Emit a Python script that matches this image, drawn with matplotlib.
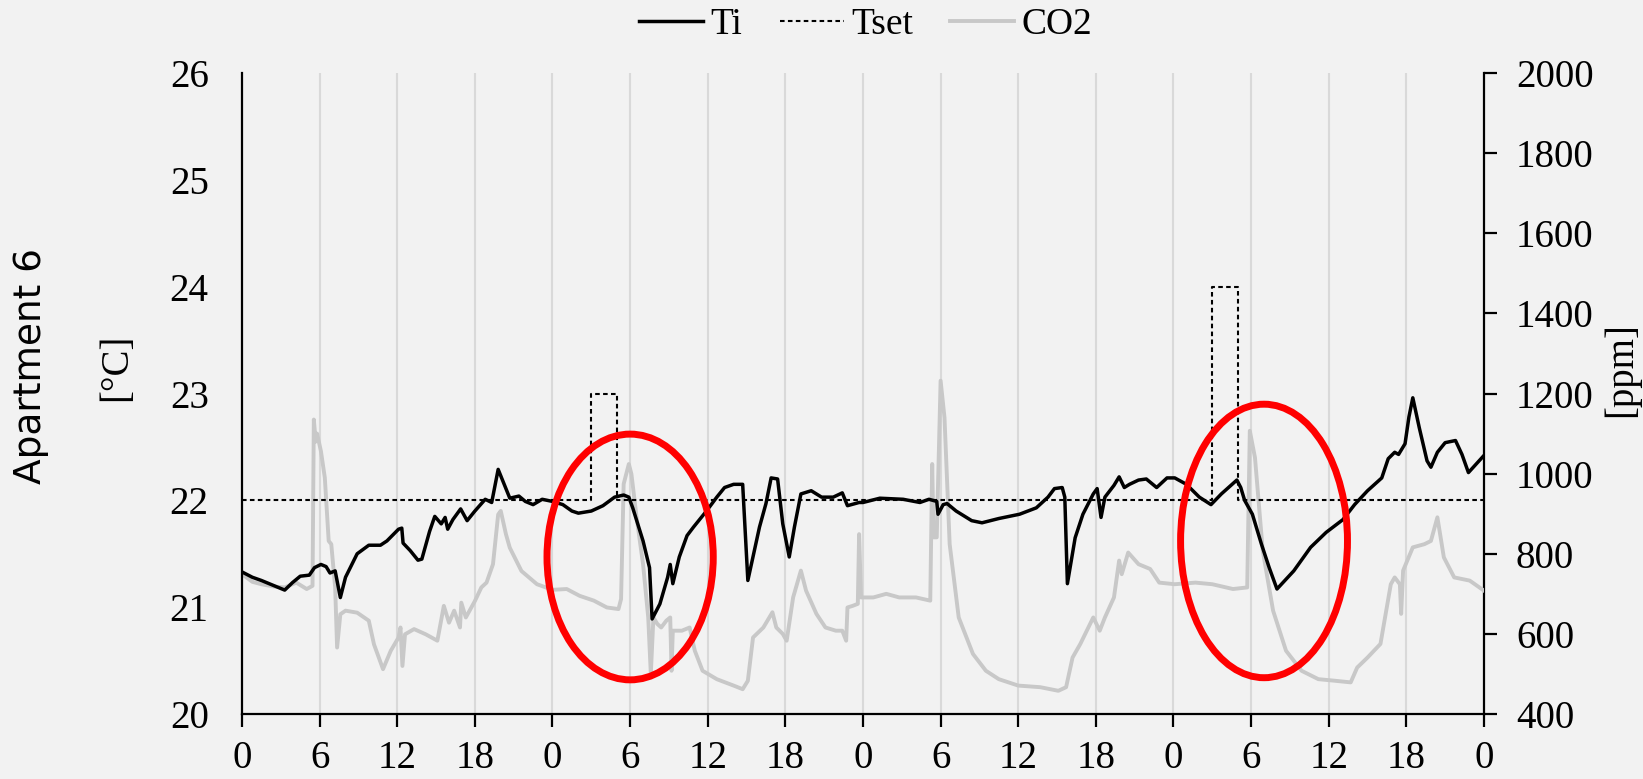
import numpy as np
import matplotlib
matplotlib.use('Agg')
import matplotlib.pyplot as plt
from matplotlib.patches import Ellipse

# 字体设置
plt.rcParams['font.family'] = ['Liberation Serif', 'DejaVu Serif']
plt.rcParams['axes.unicode_minus'] = False

# ---------------- 数据 (小时, 4天) ----------------
ti_t = [0, 0.8, 1.5, 2.5, 3.3, 3.9, 4.5, 5.2, 5.6, 6.1, 6.5, 6.8, 7.2, 7.6, 8.0, 8.9, 9.8, 10.7, 11.2,
        12.1, 12.35, 12.45, 13.0, 13.6, 13.9, 14.5, 14.9, 15.4, 15.7, 15.9, 16.3, 16.9, 17.4, 18.0, 18.8,
        19.3, 19.8, 20.1, 20.7, 21.4, 21.9, 22.5, 23.2, 24.0, 24.8, 25.5, 26.0, 27.0, 27.9, 28.8, 29.5,
        29.9, 30.2, 31.0, 31.5, 31.7, 32.3, 32.9, 33.1, 33.3, 33.8, 34.4, 34.9, 35.9, 36.7, 37.3, 38.0,
        38.7, 39.1, 40.0, 40.5, 40.9, 41.4, 41.8, 42.3, 42.7, 43.2, 44.0, 44.8, 45.7, 46.4, 46.8, 47.7,
        48.0, 49.3, 51.1, 52.4, 53.1, 53.7, 53.8, 54.2, 54.5, 55.2, 56.4, 57.2, 58.5, 60.1, 61.4, 62.3,
        62.8, 63.4, 63.6, 63.8, 64.4, 65.0, 65.8, 66.1, 66.4, 66.7, 67.4, 67.8, 68.2, 68.6, 69.3, 69.9,
        70.7, 71.5, 72.1, 73.0, 74.0, 74.9, 75.7, 76.9, 77.2, 77.5, 78.1, 78.8, 79.4, 80.0, 81.3, 82.6,
        83.8, 85.1, 86.0, 87.0, 88.1, 88.6, 89.1, 89.4, 89.9, 90.2, 90.5, 91.0, 91.6, 91.9, 92.4, 93.0,
        93.8, 94.3, 94.8, 95.4, 96.0]
ti_val = [21.33, 21.28, 21.25, 21.20, 21.16, 21.23, 21.29, 21.30, 21.37, 21.40, 21.38, 21.32, 21.34, 21.09,
          21.28, 21.50, 21.58, 21.58, 21.62, 21.73, 21.74, 21.60, 21.53, 21.44, 21.45, 21.71, 21.85, 21.78,
          21.84, 21.73, 21.82, 21.92, 21.81, 21.90, 22.01, 21.98, 22.29, 22.20, 22.02, 22.04, 21.99, 21.96,
          22.01, 21.99, 21.96, 21.90, 21.88, 21.90, 21.95, 22.03, 22.05, 22.03, 21.93, 21.62, 21.37, 20.89,
          21.03, 21.28, 21.40, 21.22, 21.47, 21.67, 21.75, 21.90, 22.03, 22.12, 22.15, 22.15, 21.25, 21.75,
          21.97, 22.21, 22.20, 21.78, 21.47, 21.75, 22.06, 22.09, 22.03, 22.03, 22.07, 21.95, 21.98, 21.98,
          22.02, 22.01, 21.98, 22.01, 21.99, 21.87, 21.96, 21.97, 21.90, 21.81, 21.79, 21.83, 21.87, 21.93,
          22.03, 22.11, 22.12, 22.03, 21.22, 21.65, 21.87, 22.06, 22.11, 21.84, 22.03, 22.14, 22.22, 22.12,
          22.15, 22.19, 22.20, 22.12, 22.21, 22.21, 22.15, 22.03, 21.96, 22.06, 22.19, 22.12, 22.00, 21.87,
          21.59, 21.37, 21.17, 21.34, 21.56, 21.70, 21.82, 21.96, 22.09, 22.21, 22.39, 22.45, 22.43, 22.53,
          22.78, 22.96, 22.68, 22.37, 22.31, 22.45, 22.54, 22.56, 22.43, 22.26, 22.34, 22.42]

tset_t = [0, 27, 27, 29, 29, 75, 75, 77, 77, 96]
tset_val = [22, 22, 23, 23, 22, 22, 24, 24, 22, 22]

co2_t = [0, 0.8, 1.5, 2.5, 3.3, 4.2, 5.0, 5.45, 5.55, 5.7, 5.8, 6.1, 6.4, 6.7, 6.9, 7.2, 7.35, 7.6, 8.0,
         8.9, 9.8, 10.2, 10.9, 11.5, 12.1, 12.25, 12.4, 12.6, 13.3, 14.2, 15.1, 15.6, 16.0, 16.4, 16.85,
         16.95, 17.3, 18.0, 18.5, 18.9, 19.4, 19.8, 20.0, 20.4, 20.7, 21.6, 22.8, 24.0, 25.1, 26.1, 27.2,
         28.2, 29.1, 29.3, 29.5, 29.9, 30.1, 30.5, 31.0, 31.4, 31.6, 31.8, 32.1, 32.4, 32.8, 33.1, 33.2,
         33.3, 34.0, 34.6, 35.0, 35.6, 36.7, 38.0, 38.7, 39.1, 39.5, 40.3, 41.0, 41.3, 41.8, 42.1, 42.6,
         43.2, 43.6, 44.4, 45.1, 45.9, 46.4, 46.7, 46.8, 47.2, 47.6, 47.7, 47.85, 48.8, 49.8, 50.8, 52.1,
         53.2, 53.35, 53.45, 53.7, 54.0, 54.3, 54.7, 55.4, 56.5, 57.5, 58.5, 60.0, 61.7, 63.1, 63.7, 64.2,
         64.8, 65.8, 66.3, 66.7, 67.4, 67.8, 68.0, 68.5, 69.3, 70.2, 70.9, 72.1, 73.7, 75.0, 76.6, 77.7,
         77.9, 78.3, 78.9, 79.7, 80.7, 81.9, 83.2, 84.5, 85.7, 86.2, 87.0, 88.0, 88.8, 89.1, 89.5, 89.6,
         89.75, 90.5, 91.4, 91.9, 92.4, 92.9, 93.7, 94.9, 96.0]
co2_val = [749, 730, 724, 718, 716, 728, 712, 720, 1135, 1080, 1100, 1056, 990, 832, 824, 716, 566, 649, 658,
           653, 633, 574, 512, 558, 591, 616, 520, 599, 612, 599, 583, 670, 628, 658, 616,
           678, 641, 682, 716, 728, 774, 898, 907, 849, 815, 757, 724, 710, 712, 695, 683,
           666, 662, 687, 974, 1024, 999, 891, 774, 641, 500, 641, 625, 616, 633, 641, 508,
           608, 608, 616, 558, 508, 487, 471, 462, 483, 591, 616, 654, 616, 600, 583, 691,
           758, 708, 650, 616, 608, 608, 583, 666, 670, 675, 849, 691, 691, 700, 691, 691,
           683, 1024, 841, 841, 1232, 1140, 824, 641, 550, 508, 487, 471, 467, 458, 467, 541,
           575, 641, 608, 641, 691, 783, 749, 803, 774, 762, 728, 724, 728, 724, 712, 716,
           1107, 1040, 808, 658, 558, 508, 487, 483, 479, 516, 541, 575, 724, 741, 724, 650,
           758, 816, 824, 832, 891, 791, 741, 733, 708]

# 红色椭圆 (中心 小时, 中心 °C, 宽 小时, 高 °C)
circles = [(30.0, 21.47, 12.85, 2.30), (79.0, 21.62, 12.9, 2.56)]

xticks = np.arange(0, 97, 6)
xtick_labels = [str(int(h % 24)) for h in xticks]

bg = '#f2f2f2'
fig = plt.figure(figsize=(16.43, 7.79), dpi=100, facecolor=bg)
ax = fig.add_axes([0.1473, 0.0834, 0.7559, 0.8229])
ax2 = ax.twinx()

# CO2 在下层, 温度在上层
ax.set_zorder(ax2.get_zorder() + 1)
ax.patch.set_visible(False)
ax2.patch.set_facecolor(bg)

l3, = ax2.plot(co2_t, co2_val, color='#c8c8c8', linewidth=2.8, label='CO2', zorder=3)
l1, = ax.plot(ti_t, ti_val, color='black', linewidth=2.5, label='Ti', zorder=4)
l2, = ax.plot(tset_t, tset_val, color='black', linewidth=1.5, linestyle=(0, (2.2, 1.6)), label='Tset', zorder=3)

for cx, cy, w, h in circles:
    ax.add_patch(Ellipse((cx, cy), w, h, fill=False, edgecolor='#ff0000', linewidth=5, zorder=6))

ax.set_xlim(0, 96)
ax.set_ylim(20, 26)
ax2.set_ylim(400, 2000)
ax.set_xticks(xticks)
ax.set_xticklabels(xtick_labels)
ax.set_yticks(np.arange(20, 27, 1))
ax2.set_yticks(np.arange(400, 2001, 200))

# 竖向网格
for h in xticks[1:-1]:
    ax2.axvline(h, color='#d9d9d9', linewidth=1.5, zorder=0)

for a in (ax, ax2):
    a.spines['top'].set_visible(False)
    for s in ('left', 'right', 'bottom'):
        a.spines[s].set_linewidth(1.6)
        a.spines[s].set_color('black')
ax.spines['right'].set_visible(False)
ax2.spines['left'].set_visible(False)
ax2.spines['bottom'].set_visible(False)

ax.tick_params(axis='y', length=0, pad=24, labelsize=28)
ax.tick_params(axis='x', length=9, width=1.6, direction='out', pad=10, labelsize=28)
ax2.tick_params(axis='y', length=9, width=1.6, direction='out', pad=14, labelsize=28)

fig.text(0.071, 0.528, '[°C]', rotation=90, ha='center', va='center', fontsize=28)
fig.text(0.987, 0.525, '[ppm]', rotation=90, ha='center', va='center', fontsize=28)
fig.text(0.019, 0.53, 'Apartment 6', rotation=90, ha='center', va='center', fontsize=27,
         family=['DejaVu Sans'])

fig.legend(handles=[l1, l2, l3], loc='center', bbox_to_anchor=(0.527, 0.968), ncol=3,
           frameon=False, fontsize=27, handlelength=1.7, handletextpad=0.2, columnspacing=1.0)

plt.savefig('out.png', dpi=100, facecolor=bg)
